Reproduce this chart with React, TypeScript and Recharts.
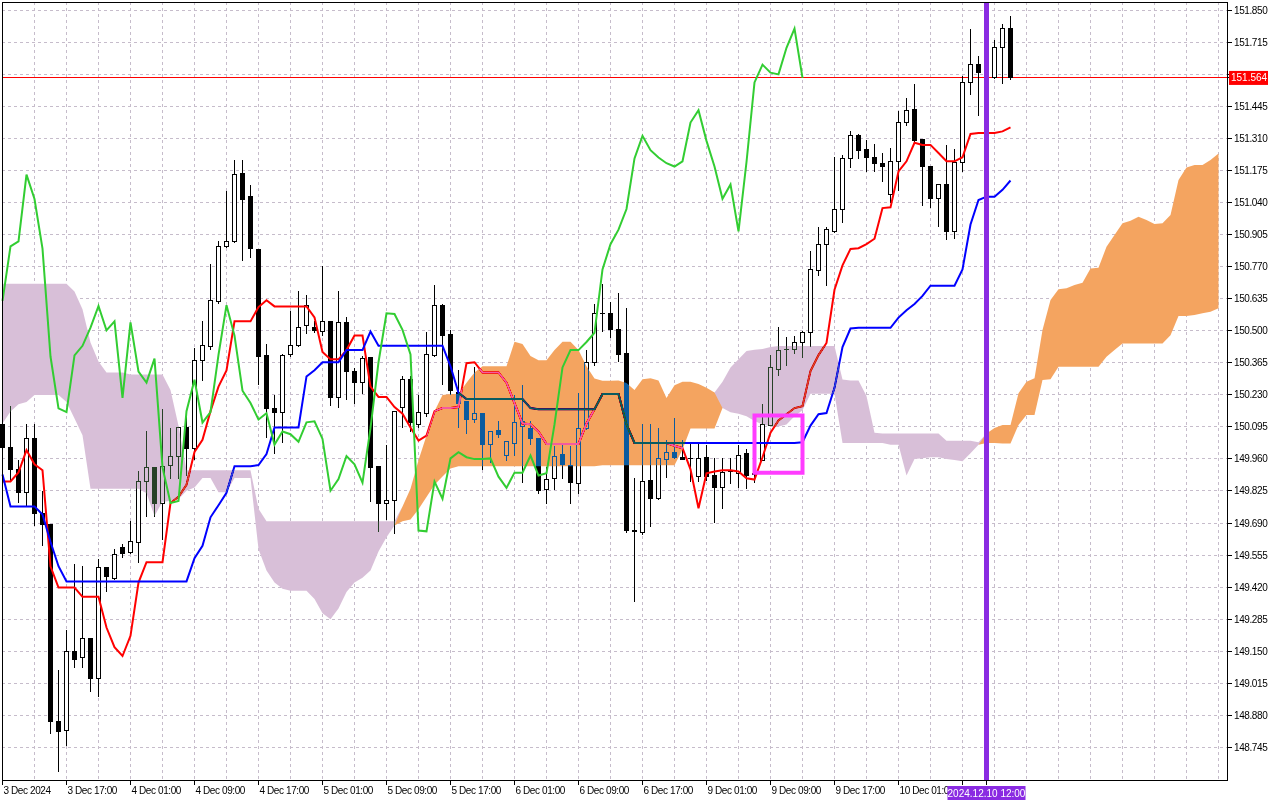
import {
    Area,
    Bar,
    CartesianGrid,
    ComposedChart,
    Line,
    ReferenceArea,
    ReferenceLine,
    XAxis,
    YAxis,
} from "recharts";

// USDJPY H1, 3 Dec 09:00 .. 10 Dec 15:00 2024
const opens = [
    150.106, 150.006, 149.915, 149.817, 150.044, 149.731, 149.683, 148.855, 148.817, 149.150,
    149.124, 149.205, 149.035, 149.504, 149.456, 149.585, 149.564, 149.607, 149.865, 149.925,
    149.772, 149.932, 149.972, 150.092, 150.003, 150.375, 150.432, 150.621, 150.855, 150.876,
    151.163, 151.063, 150.840, 150.396, 150.173, 150.157, 150.401, 150.436, 150.522, 150.515,
    150.496, 150.539, 150.217, 150.535, 150.329, 150.281, 150.387, 149.929, 149.774, 149.783,
    150.178, 150.293, 150.106, 150.152, 150.396, 150.604, 150.482, 150.238, 150.200, 150.126,
    150.152, 150.020, 150.078, 149.975, 150.023, 150.095, 150.089, 150.046, 149.831, 149.877,
    149.979, 149.932, 149.857, 150.089, 150.364, 150.573, 150.572, 150.503, 150.405, 149.660,
    149.649, 149.868, 149.792, 149.959, 149.988, 149.967, 149.962, 149.885, 149.967, 149.890,
    149.838, 149.905, 149.899, 149.984, 149.893, 149.954, 150.101, 150.337, 150.419, 150.419,
    150.452, 150.491, 150.754, 150.864, 150.916, 151.012, 151.225, 151.320, 151.261, 151.229,
    151.205, 151.072, 151.213, 151.376, 151.433, 151.303, 151.191, 151.055, 151.115, 150.918,
    151.210, 151.545, 151.620, 151.586, 151.565, 151.691, 151.772,
];
const highs = [
    150.120, 150.183, 149.954, 150.106, 150.106, 149.826, 149.683, 149.069, 149.241, 149.516,
    149.508, 149.205, 149.539, 149.504, 149.580, 149.602, 149.697, 149.908, 150.078, 149.925,
    150.168, 150.092, 150.092, 150.144, 150.427, 150.539, 150.779, 150.876, 151.089, 151.217,
    151.217, 151.114, 150.840, 150.444, 150.229, 150.401, 150.582, 150.668, 150.650, 150.539,
    150.771, 150.539, 150.668, 150.556, 150.341, 150.393, 150.387, 149.929, 150.020, 150.161,
    150.307, 150.307, 150.229, 150.496, 150.693, 150.611, 150.504, 150.333, 150.200, 150.346,
    150.152, 150.075, 150.121, 150.032, 150.229, 150.272, 150.118, 150.046, 149.927, 150.015,
    150.023, 150.015, 150.238, 150.418, 150.611, 150.697, 150.620, 150.658, 150.594, 149.881,
    150.105, 150.108, 150.088, 150.039, 150.131, 150.039, 150.027, 150.027, 150.019, 149.964,
    149.964, 149.964, 150.019, 150.002, 149.933, 150.191, 150.397, 150.517, 150.474, 150.479,
    150.500, 150.835, 150.935, 150.935, 151.230, 151.239, 151.339, 151.328, 151.304, 151.287,
    151.248, 151.270, 151.425, 151.480, 151.540, 151.303, 151.191, 151.115, 151.282, 151.265,
    151.574, 151.772, 151.655, 151.660, 151.724, 151.789, 151.823,
];
const lows = [
    149.997, 149.868, 149.774, 149.757, 149.679, 149.594, 148.803, 148.640, 148.752, 149.081,
    149.078, 148.978, 148.958, 149.401, 149.448, 149.542, 149.560, 149.521, 149.714, 149.714,
    149.619, 149.875, 149.875, 149.886, 149.954, 150.289, 150.420, 150.611, 150.848, 150.870,
    150.793, 150.805, 150.272, 150.046, 149.980, 150.027, 150.390, 150.430, 150.487, 150.490,
    150.479, 150.183, 150.173, 150.207, 150.190, 150.233, 149.779, 149.654, 149.702, 149.645,
    150.092, 150.075, 150.090, 150.135, 150.390, 150.272, 150.229, 150.092, 150.066, 150.113,
    149.912, 149.941, 150.049, 149.951, 149.972, 149.860, 150.020, 149.814, 149.769, 149.831,
    149.877, 149.769, 149.812, 150.080, 150.353, 150.496, 150.469, 150.366, 149.649, 149.357,
    149.641, 149.672, 149.787, 149.878, 149.959, 149.954, 149.864, 149.864, 149.868, 149.689,
    149.747, 149.856, 149.838, 149.833, 149.860, 149.954, 150.101, 150.311, 150.349, 150.400,
    150.383, 150.431, 150.732, 150.689, 150.909, 150.955, 151.184, 151.222, 151.170, 151.170,
    151.124, 151.038, 151.089, 151.360, 151.290, 151.024, 151.016, 150.938, 150.882, 150.887,
    151.170, 151.493, 151.402, 151.540, 151.560, 151.540, 151.557,
];
const closes = [
    150.006, 149.915, 149.820, 150.046, 149.731, 149.683, 148.855, 148.812, 149.150, 149.116,
    149.205, 149.035, 149.504, 149.465, 149.559, 149.563, 149.614, 149.865, 149.925, 149.772,
    149.929, 149.968, 150.092, 150.003, 150.375, 150.436, 150.625, 150.855, 150.876, 151.157,
    151.054, 150.845, 150.391, 150.173, 150.157, 150.396, 150.436, 150.513, 150.604, 150.501,
    150.539, 150.217, 150.535, 150.327, 150.281, 150.382, 149.924, 149.774, 149.783, 150.161,
    150.293, 150.113, 150.157, 150.398, 150.607, 150.479, 150.247, 150.195, 150.126, 150.152,
    150.020, 150.075, 150.064, 150.032, 150.114, 150.118, 150.044, 149.826, 149.875, 149.972,
    149.937, 149.860, 150.089, 150.367, 150.573, 150.570, 150.503, 150.400, 149.658, 149.655,
    149.864, 149.792, 149.962, 149.988, 149.967, 149.959, 149.960, 149.962, 149.885, 149.838,
    149.902, 149.902, 149.974, 149.890, 149.900, 150.105, 150.345, 150.418, 150.418, 150.452,
    150.491, 150.758, 150.864, 150.925, 151.012, 151.225, 151.320, 151.260, 151.229, 151.205,
    151.191, 151.213, 151.376, 151.428, 151.299, 151.191, 151.055, 151.115, 150.918, 151.210,
    151.545, 151.620, 151.586, 151.579, 151.691, 151.772, 151.564,
];

const tenkan = [
    149.865, 149.865, 149.903, 149.997, 149.937, 149.912, 149.508, 149.418, 149.418, 149.418,
    149.379, 149.379, 149.379, 149.250, 149.167, 149.130, 149.215, 149.439, 149.525, 149.525,
    149.525, 149.774, 149.800, 149.851, 149.989, 150.040, 150.161, 150.264, 150.332, 150.539,
    150.539, 150.539, 150.599, 150.628, 150.602, 150.602, 150.602, 150.602, 150.602, 150.556,
    150.410, 150.379, 150.379, 150.418, 150.479, 150.479, 150.264, 150.221, 150.221, 150.178,
    150.150, 150.092, 150.037, 150.058, 150.161, 150.174, 150.174, 150.178, 150.363, 150.367,
    150.324, 150.324, 150.324, 150.281, 150.195, 150.109, 150.106, 150.075, 150.023, 150.023,
    150.023, 150.023, 150.023, 150.109, 150.169, 150.233, 150.233, 150.233, 150.105, 150.027,
    150.027, 150.027, 150.027, 150.027, 150.015, 150.005, 149.916, 149.752, 149.899, 149.907,
    149.912, 149.912, 149.907, 149.878, 149.873, 149.967, 150.070, 150.122, 150.148, 150.174,
    150.182, 150.330, 150.397, 150.448, 150.672, 150.775, 150.844, 150.847, 150.864, 150.887,
    151.016, 151.019, 151.170, 151.213, 151.291, 151.282, 151.282, 151.248, 151.213, 151.213,
    151.230, 151.328, 151.332, 151.332, 151.332, 151.339, 151.356,
];
const kijun = [
    149.894, 149.760, 149.760, 149.760, 149.760, 149.726, 149.611, 149.508, 149.444, 149.444,
    149.444, 149.444, 149.444, 149.444, 149.444, 149.444, 149.444, 149.444, 149.444, 149.444,
    149.444, 149.444, 149.444, 149.444, 149.542, 149.594, 149.714, 149.765, 149.817, 149.929,
    149.929, 149.929, 149.934, 149.980, 150.092, 150.092, 150.092, 150.092, 150.307, 150.333,
    150.367, 150.367, 150.367, 150.418, 150.418, 150.418, 150.496, 150.436, 150.436, 150.436,
    150.436, 150.436, 150.436, 150.436, 150.436, 150.436, 150.350, 150.238, 150.212, 150.212,
    150.212, 150.212, 150.212, 150.212, 150.212, 150.212, 150.174, 150.169, 150.169, 150.169,
    150.169, 150.169, 150.169, 150.169, 150.169, 150.233, 150.233, 150.233, 150.105, 150.027,
    150.027, 150.027, 150.027, 150.027, 150.027, 150.027, 150.027, 150.027, 150.027, 150.027,
    150.027, 150.027, 150.027, 150.027, 150.027, 150.027, 150.027, 150.027, 150.027, 150.027,
    150.030, 150.100, 150.148, 150.153, 150.259, 150.431, 150.509, 150.512, 150.512, 150.512,
    150.512, 150.512, 150.555, 150.586, 150.612, 150.646, 150.689, 150.689, 150.689, 150.689,
    150.758, 150.947, 151.050, 151.064, 151.064, 151.093, 151.132,
];
const chikou = [
    150.625, 150.855, 150.876, 151.157, 151.054, 150.845, 150.391, 150.173, 150.157, 150.396,
    150.436, 150.513, 150.604, 150.501, 150.539, 150.217, 150.535, 150.327, 150.281, 150.382,
    149.924, 149.774, 149.783, 150.161, 150.293, 150.113, 150.157, 150.398, 150.607, 150.479,
    150.247, 150.195, 150.126, 150.152, 150.020, 150.075, 150.064, 150.032, 150.114, 150.118,
    150.044, 149.826, 149.875, 149.972, 149.937, 149.860, 150.089, 150.367, 150.573, 150.570,
    150.503, 150.400, 149.658, 149.655, 149.864, 149.792, 149.962, 149.988, 149.967, 149.959,
    149.960, 149.962, 149.885, 149.838, 149.902, 149.902, 149.974, 149.890, 149.900, 150.105,
    150.345, 150.418, 150.418, 150.452, 150.491, 150.758, 150.864, 150.925, 151.012, 151.225,
    151.320, 151.260, 151.229, 151.205, 151.191, 151.213, 151.376, 151.428, 151.299, 151.191,
    151.055, 151.115, 150.918, 151.210, 151.545, 151.620, 151.586, 151.579, 151.691, 151.772,
    151.564,
];
const spanA = [
    150.109, 150.160, 150.190, 150.200, 150.229, 150.229, 150.229, 150.229, 150.200, 150.130,
    150.060, 149.834, 149.834, 149.834, 149.834, 149.834, 149.834, 149.834, 149.815, 149.720,
    149.780, 149.783, 149.790, 149.826, 149.840, 149.880, 149.880, 149.820, 149.820, 149.880,
    149.880, 149.880, 149.580, 149.490, 149.440, 149.413, 149.405, 149.405, 149.405, 149.370,
    149.310, 149.285, 149.330, 149.400, 149.440, 149.460, 149.490, 149.570, 149.630, 149.680,
    149.760, 149.834, 149.954, 150.058, 150.161, 150.229, 150.233, 150.233, 150.281, 150.324,
    150.350, 150.350, 150.350, 150.350, 150.453, 150.444, 150.393, 150.375, 150.375, 150.418,
    150.453, 150.453, 150.418, 150.350, 150.298, 150.289, 150.289, 150.290, 150.280, 150.250,
    150.295, 150.300, 150.290, 150.216, 150.270, 150.285, 150.285, 150.275, 150.260, 150.240,
    150.174, 150.156, 150.150, 150.139, 150.120, 150.105, 150.098, 150.096, 150.105, 150.139,
    150.165, 150.234, 150.234, 150.234, 150.234, 150.027, 150.027, 150.027, 150.027, 150.027,
    150.027, 150.019, 150.019, 149.890, 149.959, 149.963, 149.967, 149.967, 149.959, 149.955,
    149.950, 149.984, 150.020, 150.067, 150.090, 150.103, 150.103, 150.236, 150.285, 150.299,
    150.503, 150.629, 150.674, 150.678, 150.692, 150.702, 150.762, 150.765, 150.853, 150.903,
    150.952, 150.963, 150.980, 150.966, 150.949, 150.952, 150.987, 151.134, 151.187, 151.197,
    151.197, 151.218, 151.246,
];
const spanB = [
    150.697, 150.697, 150.697, 150.697, 150.697, 150.697, 150.697, 150.697, 150.697, 150.665,
    150.590, 150.450, 150.370, 150.324, 150.324, 150.324, 150.315, 150.315, 150.315, 150.315,
    150.315, 150.250, 150.100, 149.912, 149.912, 149.912, 149.912, 149.912, 149.912, 149.912,
    149.912, 149.912, 149.750, 149.697, 149.697, 149.697, 149.697, 149.697, 149.697, 149.697,
    149.697, 149.697, 149.697, 149.697, 149.697, 149.697, 149.697, 149.697, 149.697, 149.697,
    149.697, 149.705, 149.748, 149.800, 149.851, 149.886, 149.920, 149.929, 149.929, 149.929,
    149.929, 149.929, 149.929, 149.929, 149.929, 149.929, 149.929, 149.929, 149.929, 149.929,
    149.929, 149.929, 149.929, 149.929, 149.929, 149.933, 149.933, 149.933, 149.933, 149.933,
    149.933, 149.933, 149.933, 149.933, 149.933, 150.000, 150.088, 150.088, 150.088, 150.088,
    150.285, 150.345, 150.380, 150.414, 150.420, 150.423, 150.431, 150.435, 150.435, 150.435,
    150.435, 150.435, 150.435, 150.435, 150.435, 150.294, 150.290, 150.290, 150.225, 150.070,
    150.067, 150.067, 150.067, 150.067, 150.067, 150.067, 150.067, 150.067, 150.036, 150.036,
    150.036, 150.036, 150.030, 150.027, 150.027, 150.025, 150.025, 150.103, 150.145, 150.145,
    150.292, 150.295, 150.348, 150.348, 150.348, 150.348, 150.348, 150.348, 150.390, 150.418,
    150.446, 150.446, 150.446, 150.446, 150.446, 150.446, 150.481, 150.562, 150.562, 150.566,
    150.573, 150.580, 150.594,
];

const xTicks = [0, 8, 16, 24, 32, 40, 48, 56, 64, 72, 80, 88, 96, 104, 112, 120];
const xLabels = [
    "3 Dec 2024", "3 Dec 17:00", "4 Dec 01:00", "4 Dec 09:00", "4 Dec 17:00", "5 Dec 01:00",
    "5 Dec 09:00", "5 Dec 17:00", "6 Dec 01:00", "6 Dec 09:00", "6 Dec 17:00", "9 Dec 01:00",
    "9 Dec 09:00", "9 Dec 17:00", "10 Dec 01:00", "10 Dec 09:00",
];
const yTicks = [
    151.85, 151.715, 151.58, 151.445, 151.31, 151.175, 151.04, 150.905, 150.77, 150.635,
    150.5, 150.365, 150.23, 150.095, 149.96, 149.825, 149.69, 149.555, 149.42, 149.285,
    149.15, 149.015, 148.88, 148.745,
];
const gridX = Array.from({ length: 39 }, (_, k) => k * 4);

const lastPrice = 151.564;
const markerBar = 123;
const markerLabel = "2024.12.10 12:00";
const boxBars = [94, 100];
const boxPrices = [149.902, 150.143];

const FONT = "'Liberation Sans', Arial, sans-serif";

const rows = spanA.map((a, i) => {
    const b = spanB[i];
    const bar = i < opens.length;
    return {
        i,
        o: bar ? opens[i] : null,
        h: bar ? highs[i] : null,
        l: bar ? lows[i] : null,
        c: bar ? closes[i] : null,
        hl: bar ? [lows[i], highs[i]] : null,
        tenkan: i < tenkan.length ? tenkan[i] : null,
        kijun: i < kijun.length ? kijun[i] : null,
        chikou: i < chikou.length ? chikou[i] : null,
        mask: [Math.min(a, b), Math.max(a, b)],
        up: a >= b ? [b, a] : [a, a],
        down: b > a ? [a, b] : [a, a],
    };
});

function Candle(props: any) {
    const { x, y, width, height, payload } = props;
    if (!payload || payload.hl == null || height == null) return null;
    const { o, h, l, c } = payload;
    const cx = x + width / 2;
    const k = h > l ? height / (h - l) : 0;
    const top = y + (h - Math.max(o, c)) * k;
    const bottom = y + (h - Math.min(o, c)) * k;
    const bull = c > o;
    return (
        <g shapeRendering="crispEdges">
            <line x1={cx} x2={cx} y1={y} y2={y + height} stroke="#000" strokeWidth={1} />
            {bottom - top < 1 ? (
                <line x1={cx - 2.5} x2={cx + 2.5} y1={top} y2={top} stroke="#000" strokeWidth={1} />
            ) : (
                <rect
                    x={cx - 2}
                    y={top}
                    width={4}
                    height={bottom - top}
                    fill={bull ? "#fff" : "#000"}
                    stroke="#000"
                    strokeWidth={1}
                />
            )}
        </g>
    );
}

// time labels; the extra tick at the marker bar draws the purple time tag on top
function TimeTick(props: any) {
    const { x, y, payload } = props;
    if (payload.value === markerBar) {
        return (
            <g>
                <rect x={x - 39} y={y - 1} width={78} height={14} fill="#8a2be2" />
                <text x={x} y={y + 6} dy="0.355em" textAnchor="middle" fill="#fff"
                    fontSize={10} fontFamily={FONT}>
                    {markerLabel}
                </text>
            </g>
        );
    }
    // the label that sits fully under the time tag is not drawn
    if (Math.abs(payload.value - markerBar) < 4) return null;
    const k = xTicks.indexOf(payload.value);
    return (
        <text x={x + 1} y={y} dy="0.71em" textAnchor="start" fill="#000" fontSize={10}
            fontFamily={FONT} style={{ letterSpacing: "-0.4px" }}>
            {xLabels[k]}
        </text>
    );
}

// price labels; the extra tick at the last price draws the red price tag on top
function PriceTick(props: any) {
    const { x, y, payload } = props;
    if (payload.value === lastPrice) {
        return (
            <g>
                <rect x={x - 5} y={y - 7} width={39} height={14} fill="#ff0000" />
                <text x={x - 3} y={y} dy="0.355em" fill="#fff" fontSize={10} fontFamily={FONT}>
                    {lastPrice.toFixed(3)}
                </text>
            </g>
        );
    }
    // the label hidden under the price tag is not drawn
    if (Math.abs(payload.value - lastPrice) < 0.05) return null;
    return (
        <text x={x} y={y} dy="0.355em" textAnchor="start" fill="#000" fontSize={10}
            fontFamily={FONT} style={{ letterSpacing: "-0.4px" }}>
            {Number(payload.value).toFixed(3)}
        </text>
    );
}

export default function App() {
    return (
        <div style={{ position: "absolute", left: 0, top: 0, width: 1280, height: 800, background: "#fff" }}>
            <style>{`
                body { margin: 0; }
                .cloud-blend .recharts-area-area { mix-blend-mode: difference; }
                .recharts-cartesian-grid line,
                .recharts-reference-line line,
                .recharts-cartesian-axis-tick-line { shape-rendering: crispEdges; }
            `}</style>
            <ComposedChart width={1280} height={800} data={rows}
                margin={{ top: 2, right: 0, bottom: 0, left: 2 }}>
                <CartesianGrid
                    fill="#fff"
                    stroke="#c6bccb"
                    strokeDasharray="3 3"
                    horizontalValues={yTicks}
                    verticalValues={gridX}
                />
                <XAxis
                    dataKey="i"
                    type="number"
                    domain={[-0.0625, 153.1875]}
                    ticks={[...xTicks, markerBar]}
                    interval={0}
                    tick={<TimeTick />}
                    tickSize={5}
                    tickLine={{ stroke: "#000" }}
                    axisLine={false}
                    height={20}
                />
                <YAxis
                    orientation="right"
                    type="number"
                    domain={[148.6079, 151.8837]}
                    ticks={[...yTicks, lastPrice]}
                    interval={0}
                    tick={<PriceTick />}
                    tickSize={4}
                    tickLine={{ stroke: "#000" }}
                    axisLine={false}
                    width={52}
                />
                <Area dataKey="mask" fill="#fff" fillOpacity={1} stroke="none"
                    dot={false} activeDot={false} isAnimationActive={false} zIndex={100} />
                <ReferenceLine y={lastPrice} stroke="#ff0000" strokeWidth={1} zIndex={250} />
                <Bar dataKey="hl" barSize={5} shape={<Candle />} isAnimationActive={false} zIndex={300} />
                <Line dataKey="tenkan" stroke="#ff0000" strokeWidth={2} dot={false} activeDot={false}
                    isAnimationActive={false} zIndex={310} />
                <Line dataKey="kijun" stroke="#0000ff" strokeWidth={2} dot={false} activeDot={false}
                    isAnimationActive={false} zIndex={320} />
                <Area className="cloud-blend" dataKey="up" fill="#0b5b9f" fillOpacity={1} stroke="none"
                    dot={false} activeDot={false} isAnimationActive={false} zIndex={330} />
                <Area className="cloud-blend" dataKey="down" fill="#274027" fillOpacity={1} stroke="none"
                    dot={false} activeDot={false} isAnimationActive={false} zIndex={340} />
                <Line dataKey="chikou" stroke="#32cd32" strokeWidth={2} dot={false} activeDot={false}
                    isAnimationActive={false} zIndex={350} />
                <ReferenceArea x1={boxBars[0]} x2={boxBars[1]} y1={boxPrices[0]} y2={boxPrices[1]}
                    fill="none" fillOpacity={0} stroke="#ff3cff" strokeWidth={4} zIndex={370} />
                <ReferenceLine x={markerBar} stroke="#8a2be2" strokeWidth={4.5} zIndex={380} />
            </ComposedChart>
            <div style={{
                position: "absolute", left: 2, top: 2, width: 1226, height: 779,
                border: "1px solid #000", boxSizing: "border-box", pointerEvents: "none",
            }} />
        </div>
    );
}
